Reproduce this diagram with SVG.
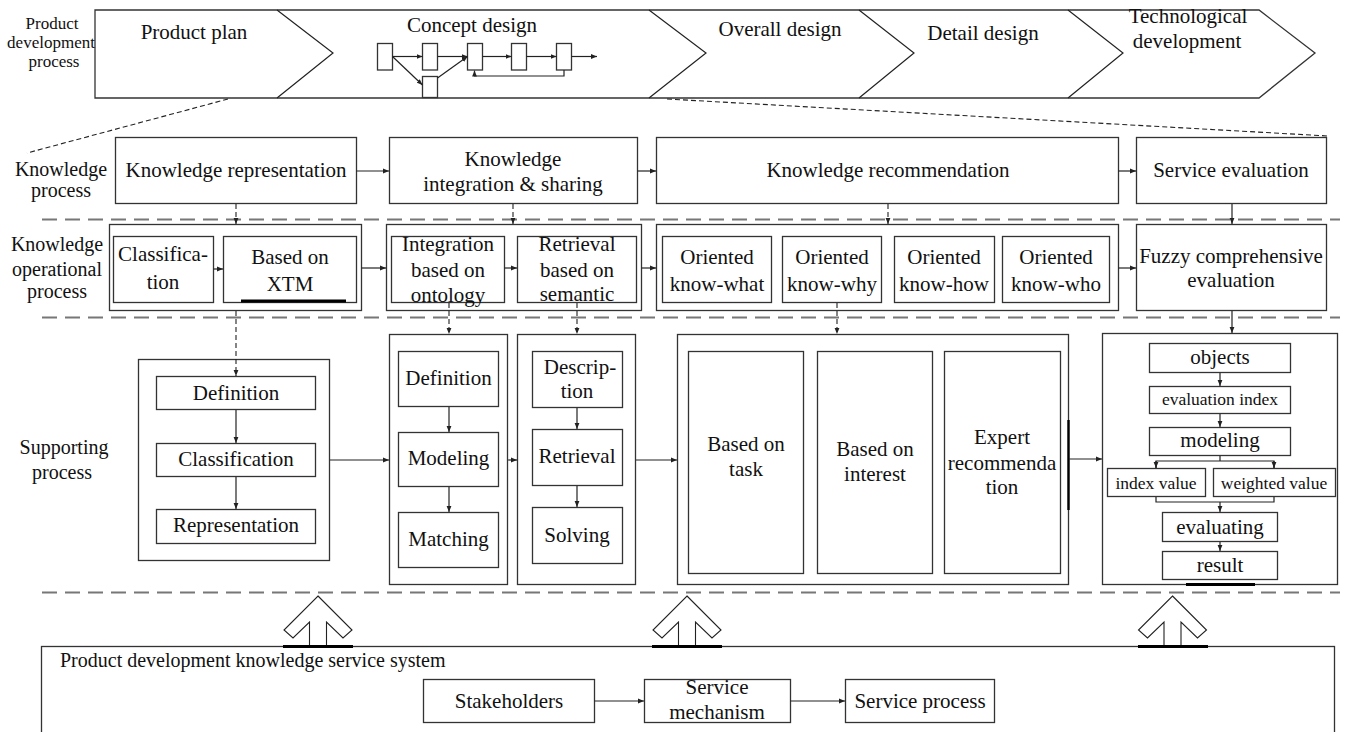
<svg xmlns="http://www.w3.org/2000/svg" width="1347" height="732" viewBox="0 0 1347 732">
  <defs>
    <marker id="ah" viewBox="0 0 10 10" refX="10" refY="5" markerWidth="6" markerHeight="6" orient="auto" markerUnits="userSpaceOnUse">
      <path d="M0,1 L10,5 L0,9 z" fill="#222"/>
    </marker>
    <style>
      .box { fill: #fff; stroke: #333; stroke-width: 1.3; }
      .ln { fill: none; stroke: #222; stroke-width: 1.2; }
      .dash { fill: none; stroke: #222; stroke-width: 1.1; stroke-dasharray: 5 3; }
      .sep { fill: none; stroke: #777; stroke-width: 1.8; stroke-dasharray: 15 8; }
      .thick { stroke: #000; stroke-width: 3; }
      .t { font-family: "Liberation Serif", "Times New Roman", serif; font-size: 21px; fill: #111; text-anchor: middle; }
      .s { font-size: 17.5px; }
      .lab { font-size: 20px; }
      .top { font-size: 17px; }
      .big { fill: #fff; stroke: #222; stroke-width: 1.1; }
    </style>
  </defs>

  <!-- product development process band -->
  <g id="process-band">
    <polygon class="box" points="95,10 1259,10 1315,53 1259,98 95,98"/>
    <polyline class="ln" points="277,10 333,53 277,98"/>
    <polyline class="ln" points="649,10 706,53 649,98"/>
    <polyline class="ln" points="859,10 914,53 859,98"/>
    <polyline class="ln" points="1068,10 1123,53 1068,98"/>
    <text class="t" x="194" y="39">Product plan</text>
    <text class="t" x="472" y="32">Concept design</text>
    <text class="t" x="780" y="36">Overall design</text>
    <text class="t" x="983" y="40">Detail design</text>
    <text class="t" x="1188" y="23">Technological</text>
    <text class="t" x="1187" y="48">development</text>
  </g>

  <!-- small flow sketch inside concept design -->
  <g id="concept-sketch">
    <rect class="box" x="377.5" y="43.5" width="15" height="26.5"/>
    <rect class="box" x="422.5" y="43.5" width="15" height="26.5"/>
    <rect class="box" x="422.5" y="76.5" width="15" height="21"/>
    <rect class="box" x="467.5" y="43.5" width="15" height="26.5"/>
    <rect class="box" x="511.5" y="43.5" width="15" height="26.5"/>
    <rect class="box" x="556.5" y="43.5" width="15" height="26.5"/>
    <line class="ln" x1="392.5" y1="56.5" x2="422.5" y2="56.5" marker-end="url(#ah)"/>
    <line class="ln" x1="392.5" y1="56.5" x2="422.5" y2="85" marker-end="url(#ah)"/>
    <line class="ln" x1="437.5" y1="56.5" x2="467.5" y2="56.5" marker-end="url(#ah)"/>
    <line class="ln" x1="437.5" y1="78" x2="467.5" y2="56.5" marker-end="url(#ah)"/>
    <line class="ln" x1="482.5" y1="56.5" x2="511.5" y2="56.5" marker-end="url(#ah)"/>
    <line class="ln" x1="526.5" y1="56.5" x2="556.5" y2="56.5" marker-end="url(#ah)"/>
    <line class="ln" x1="571.5" y1="56.5" x2="597" y2="56.5" marker-end="url(#ah)"/>
    <polyline class="ln" points="564,70 564,76 474.5,76 474.5,70.5" marker-end="url(#ah)"/>
  </g>

  <!-- row labels -->
  <g id="labels">
    <text class="t top" x="52" y="29">Product</text>
    <text class="t top" x="51" y="48">development</text>
    <text class="t top" x="54" y="67">process</text>
    <text class="t lab" x="61" y="176">Knowledge</text>
    <text class="t lab" x="61" y="197">process</text>
    <text class="t lab" x="57" y="251">Knowledge</text>
    <text class="t lab" x="57" y="276">operational</text>
    <text class="t lab" x="57" y="298">process</text>
    <text class="t lab" x="64" y="454">Supporting</text>
    <text class="t lab" x="62" y="479">process</text>
  </g>

  <!-- separators and zoom guides -->
  <g id="separators">
    <line class="sep" x1="42" y1="219.5" x2="1340" y2="219.5"/>
    <line class="sep" x1="42" y1="317.5" x2="1340" y2="317.5"/>
    <line class="sep" x1="42" y1="592.5" x2="1340" y2="592.5"/>
    <line class="dash" x1="228" y1="99" x2="27" y2="153"/>
    <line class="dash" x1="667" y1="99" x2="1328" y2="136"/>
  </g>

  <!-- knowledge process -->
  <g id="k-representation">
    <rect class="box" x="115.5" y="137.5" width="241" height="66"/>
    <text class="t" x="236" y="177">Knowledge representation</text>
  </g>
  <g id="k-integration">
    <rect class="box" x="389.5" y="137.5" width="248" height="66"/>
    <text class="t" x="513" y="166">Knowledge</text>
    <text class="t" x="513" y="191">integration &amp; sharing</text>
  </g>
  <g id="k-recommendation">
    <rect class="box" x="656.5" y="137.5" width="462" height="66"/>
    <text class="t" x="888" y="177">Knowledge recommendation</text>
  </g>
  <g id="service-evaluation">
    <rect class="box" x="1136.5" y="137.5" width="190" height="66"/>
    <text class="t" x="1231" y="177">Service evaluation</text>
  </g>

  <!-- knowledge operational process -->
  <g id="op-representation">
    <rect class="box" x="109.5" y="224.5" width="252" height="86"/>
    <rect class="box" x="113.5" y="236.5" width="100" height="66"/>
    <text class="t" x="163" y="261">Classifica-</text>
    <text class="t" x="163" y="289">tion</text>
    <rect class="box" x="223.5" y="236.5" width="133" height="66"/>
    <text class="t" x="290" y="264">Based on</text>
    <text class="t" x="290" y="291">XTM</text>
    <line class="thick" x1="241" y1="301" x2="346" y2="301"/>
  </g>
  <g id="op-integration">
    <rect class="box" x="386.5" y="224.5" width="255" height="86"/>
    <rect class="box" x="391.5" y="236.5" width="113" height="66"/>
    <text class="t" x="448" y="251">Integration</text>
    <text class="t" x="448" y="277">based on</text>
    <text class="t" x="448" y="302">ontology</text>
    <rect class="box" x="517.5" y="236.5" width="119" height="66"/>
    <text class="t" x="577" y="251">Retrieval</text>
    <text class="t" x="577" y="277">based on</text>
    <text class="t" x="577" y="301">semantic</text>
  </g>
  <g id="op-recommendation">
    <rect class="box" x="656.5" y="224.5" width="462" height="86"/>
    <rect class="box" x="662.5" y="236.5" width="109" height="66"/>
    <text class="t" x="717" y="264">Oriented</text>
    <text class="t" x="717" y="291">know-what</text>
    <rect class="box" x="782.5" y="236.5" width="99" height="66"/>
    <text class="t" x="832" y="264">Oriented</text>
    <text class="t" x="832" y="291">know-why</text>
    <rect class="box" x="894.5" y="236.5" width="100" height="66"/>
    <text class="t" x="944" y="264">Oriented</text>
    <text class="t" x="944" y="291">know-how</text>
    <rect class="box" x="1002.5" y="236.5" width="107" height="66"/>
    <text class="t" x="1056" y="264">Oriented</text>
    <text class="t" x="1056" y="291">know-who</text>
  </g>
  <g id="fuzzy-evaluation">
    <rect class="box" x="1136.5" y="224.5" width="190" height="86"/>
    <text class="t" x="1231" y="263">Fuzzy comprehensive</text>
    <text class="t" x="1231" y="287">evaluation</text>
  </g>

  <!-- supporting process -->
  <g id="sup-representation">
    <rect class="box" x="138.5" y="359.5" width="191" height="201"/>
    <rect class="box" x="156.5" y="376.5" width="159" height="33"/>
    <text class="t" x="236" y="400">Definition</text>
    <rect class="box" x="156.5" y="443.5" width="159" height="33"/>
    <text class="t" x="236" y="466">Classification</text>
    <rect class="box" x="156.5" y="509.5" width="159" height="34"/>
    <text class="t" x="236" y="532">Representation</text>
  </g>
  <g id="sup-integration">
    <rect class="box" x="389.5" y="334.5" width="118" height="250"/>
    <rect class="box" x="398.5" y="351.5" width="100" height="55"/>
    <text class="t" x="448.5" y="385">Definition</text>
    <rect class="box" x="398.5" y="432.5" width="100" height="54"/>
    <text class="t" x="448.5" y="465">Modeling</text>
    <rect class="box" x="398.5" y="512.5" width="100" height="55"/>
    <text class="t" x="448.5" y="546">Matching</text>
  </g>
  <g id="sup-retrieval">
    <rect class="box" x="517.5" y="334.5" width="118" height="250"/>
    <rect class="box" x="532.5" y="351.5" width="90" height="56"/>
    <text class="t" x="580" y="374">Descrip-</text>
    <text class="t" x="577" y="398">tion</text>
    <rect class="box" x="532.5" y="429.5" width="90" height="56"/>
    <text class="t" x="577" y="463">Retrieval</text>
    <rect class="box" x="532.5" y="507.5" width="90" height="56"/>
    <text class="t" x="577" y="542">Solving</text>
  </g>
  <g id="sup-recommendation">
    <rect class="box" x="677.5" y="334.5" width="391" height="250"/>
    <line x1="1068.5" y1="420" x2="1068.5" y2="510" stroke="#000" stroke-width="2.4"/>
    <rect class="box" x="688.5" y="351.5" width="115" height="222"/>
    <text class="t" x="746" y="451">Based on</text>
    <text class="t" x="746" y="476">task</text>
    <rect class="box" x="817.5" y="351.5" width="115" height="222"/>
    <text class="t" x="875" y="456">Based on</text>
    <text class="t" x="875" y="481">interest</text>
    <rect class="box" x="944.5" y="351.5" width="116" height="222"/>
    <text class="t" x="1002" y="444">Expert</text>
    <text class="t" x="1002" y="470">recommenda</text>
    <text class="t" x="1002" y="494">tion</text>
  </g>
  <g id="sup-evaluation">
    <rect class="box" x="1102.5" y="333.5" width="235" height="251"/>
    <line class="thick" x1="1186" y1="584.5" x2="1255" y2="584.5"/>
    <rect class="box" x="1149.5" y="343.5" width="141" height="29"/>
    <text class="t" x="1220" y="364">objects</text>
    <rect class="box" x="1149.5" y="386.5" width="141" height="27"/>
    <text class="t s" x="1220" y="405">evaluation index</text>
    <rect class="box" x="1149.5" y="427.5" width="141" height="28"/>
    <text class="t" x="1220" y="447">modeling</text>
    <rect class="box" x="1107.5" y="468.5" width="98" height="28"/>
    <text class="t s" x="1156" y="489">index value</text>
    <rect class="box" x="1213.5" y="468.5" width="122" height="28"/>
    <text class="t s" x="1274" y="489">weighted value</text>
    <rect class="box" x="1162.5" y="512.5" width="115" height="29"/>
    <text class="t" x="1220" y="534">evaluating</text>
    <rect class="box" x="1162.5" y="551.5" width="115" height="28"/>
    <text class="t" x="1220" y="572">result</text>
  </g>

  <!-- service system -->
  <g id="service-system">
    <rect class="box" x="41.5" y="646.5" width="1293" height="100"/>
    <text class="t lab" x="60" y="667" style="text-anchor:start">Product development knowledge service system</text>
  </g>
  <g id="stakeholders">
    <rect class="box" x="423.5" y="679.5" width="171" height="43"/>
    <text class="t" x="509" y="708">Stakeholders</text>
  </g>
  <g id="service-mechanism">
    <rect class="box" x="644.5" y="679.5" width="146" height="43"/>
    <text class="t" x="717" y="694">Service</text>
    <text class="t" x="717" y="719">mechanism</text>
  </g>
  <g id="service-process">
    <rect class="box" x="845.5" y="679.5" width="149" height="43"/>
    <text class="t" x="920" y="708">Service process</text>
  </g>

  <!-- support arrows from the service system -->
  <g id="support-arrows">
    <path class="big" d="M318,596 L352,630 L343,638 L326.5,622 L326.5,646 L309.5,646 L309.5,622 L293,638 L284,630 Z"/>
    <path class="big" d="M687,596 L721,630 L712,638 L695.5,622 L695.5,646 L678.5,646 L678.5,622 L662,638 L653,630 Z"/>
    <path class="big" d="M1172.5,596 L1206.5,630 L1197.5,638 L1181,622 L1181,646 L1164,646 L1164,622 L1147.5,638 L1138.5,630 Z"/>
    <line class="thick" x1="283" y1="646.5" x2="353" y2="646.5"/>
    <line class="thick" x1="652" y1="646.5" x2="722" y2="646.5"/>
    <line class="thick" x1="1138" y1="646.5" x2="1208" y2="646.5"/>
  </g>

  <!-- connectors -->
  <g id="connectors">
    <line class="ln" x1="356.5" y1="171" x2="389" y2="171" marker-end="url(#ah)"/>
    <line class="ln" x1="637.5" y1="171" x2="656" y2="171" marker-end="url(#ah)"/>
    <line class="ln" x1="1118.5" y1="171" x2="1136" y2="171" marker-end="url(#ah)"/>
    <line class="dash" x1="236" y1="204" x2="236" y2="224" marker-end="url(#ah)"/>
    <line class="dash" x1="513" y1="204" x2="513" y2="224" marker-end="url(#ah)"/>
    <line class="dash" x1="888" y1="204" x2="888" y2="224" marker-end="url(#ah)"/>
    <line class="ln" x1="1232" y1="204" x2="1232" y2="224" marker-end="url(#ah)"/>

    <line class="ln" x1="213.5" y1="269" x2="223" y2="269" marker-end="url(#ah)"/>
    <line class="ln" x1="361.5" y1="268" x2="386" y2="268" marker-end="url(#ah)"/>
    <line class="ln" x1="504.5" y1="268" x2="517" y2="268" marker-end="url(#ah)"/>
    <line class="ln" x1="641.5" y1="268" x2="656" y2="268" marker-end="url(#ah)"/>
    <line class="ln" x1="1118.5" y1="268" x2="1136" y2="268" marker-end="url(#ah)"/>

    <line class="dash" x1="236" y1="311" x2="236" y2="376" marker-end="url(#ah)"/>
    <line class="dash" x1="449" y1="303" x2="449" y2="334" marker-end="url(#ah)"/>
    <line class="dash" x1="577" y1="303" x2="577" y2="334" marker-end="url(#ah)"/>
    <line class="dash" x1="837" y1="303" x2="837" y2="334" marker-end="url(#ah)"/>
    <line class="ln" x1="1232" y1="311" x2="1232" y2="333" marker-end="url(#ah)"/>

    <line class="ln" x1="236" y1="410" x2="236" y2="443" marker-end="url(#ah)"/>
    <line class="ln" x1="236" y1="477" x2="236" y2="509" marker-end="url(#ah)"/>
    <line class="ln" x1="449" y1="407" x2="449" y2="432" marker-end="url(#ah)"/>
    <line class="ln" x1="449" y1="487" x2="449" y2="512" marker-end="url(#ah)"/>
    <line class="ln" x1="577" y1="408" x2="577" y2="429" marker-end="url(#ah)"/>
    <line class="ln" x1="577" y1="486" x2="577" y2="507" marker-end="url(#ah)"/>

    <line class="ln" x1="330" y1="460" x2="389" y2="460" marker-end="url(#ah)"/>
    <line class="ln" x1="508" y1="460" x2="517" y2="460" marker-end="url(#ah)"/>
    <line class="ln" x1="636" y1="460" x2="677" y2="460" marker-end="url(#ah)"/>
    <line class="ln" x1="1069" y1="459" x2="1102" y2="459" marker-end="url(#ah)"/>

    <line class="ln" x1="1220" y1="373" x2="1220" y2="386" marker-end="url(#ah)"/>
    <line class="ln" x1="1220" y1="414" x2="1220" y2="427" marker-end="url(#ah)"/>
    <polyline class="ln" points="1220,456 1220,461"/>
    <polyline class="ln" points="1156,468 1156,461 1274,461 1274,468"/>
    <line class="ln" x1="1156" y1="461" x2="1156" y2="468" marker-end="url(#ah)"/>
    <line class="ln" x1="1274" y1="461" x2="1274" y2="468" marker-end="url(#ah)"/>
    <polyline class="ln" points="1156,497 1156,502 1274,502 1274,497"/>
    <line class="ln" x1="1220" y1="502" x2="1220" y2="512" marker-end="url(#ah)"/>
    <line class="ln" x1="1220" y1="542" x2="1220" y2="551" marker-end="url(#ah)"/>

    <line class="ln" x1="594.5" y1="701" x2="644" y2="701" marker-end="url(#ah)"/>
    <line class="ln" x1="790.5" y1="701" x2="845" y2="701" marker-end="url(#ah)"/>
  </g>
</svg>
